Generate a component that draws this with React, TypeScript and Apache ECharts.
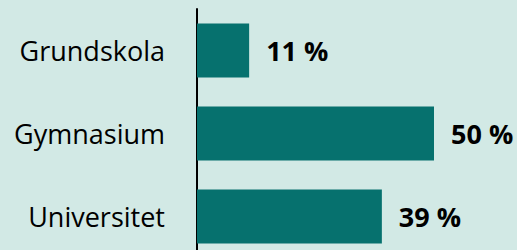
import React, { useEffect, useRef } from "react";
import * as echarts from "echarts";

const categories = ["Grundskola", "Gymnasium", "Universitet"];
const values = [11, 50, 39];

export default function App() {
  const ref = useRef<HTMLDivElement>(null);
  useEffect(() => {
    document.body.style.margin = "0";
    document.body.style.background = "#d2e9e5";
    const chart = echarts.init(ref.current!, undefined, { renderer: "svg" });
    chart.setOption({
      animation: false,
      backgroundColor: "#d2e9e5",
      grid: { left: 197, top: 9, width: 284.4, height: 249 },
      xAxis: {
        type: "value",
        min: 0,
        max: 60,
        show: false,
        splitLine: { show: false },
      },
      yAxis: {
        type: "category",
        data: categories,
        inverse: true,
        axisLine: { show: true, lineStyle: { color: "#000", width: 2 } },
        axisTick: { show: false },
        axisLabel: {
          margin: 32,
          fontSize: 27,
          fontFamily: "Open Sans",
          color: "#000",
        },
      },
      series: [
        {
          type: "bar",
          data: values,
          barCategoryGap: "35%",
          itemStyle: { color: "#06716e" },
          label: {
            show: true,
            position: "right",
            distance: 17,
            formatter: "{c} %",
            fontSize: 27,
            fontWeight: "bold",
            fontFamily: "Open Sans",
            color: "#000",
          },
        },
      ],
    });
    return () => chart.dispose();
  }, []);
  return (
    <div
      ref={ref}
      style={{
        position: "fixed",
        top: 0,
        left: 0,
        width: 517,
        height: 258,
        background: "#d2e9e5",
      }}
    />
  );
}
